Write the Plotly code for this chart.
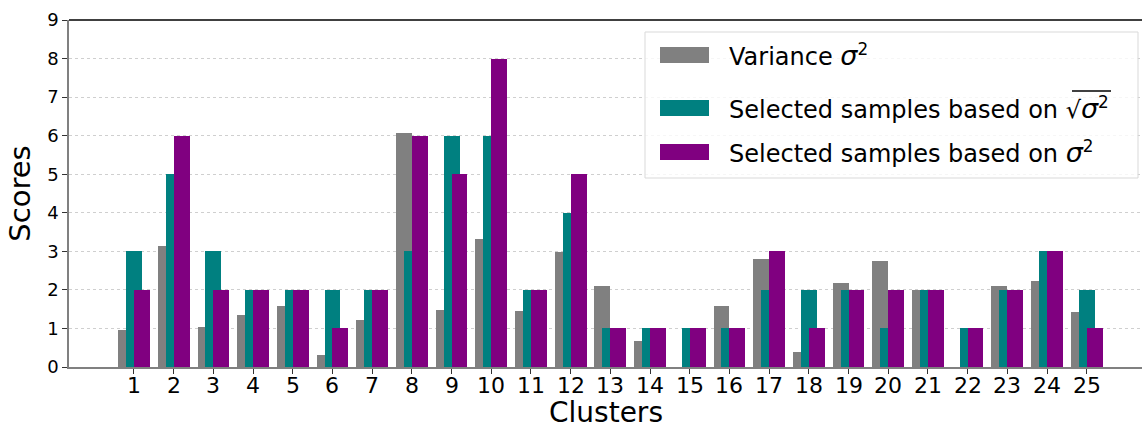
import plotly.graph_objects as go

# Per-cluster scores
clusters = list(range(1, 26))
variance = [0.97, 3.13, 1.03, 1.34, 1.58, 0.31, 1.22, 6.08, 1.48, 3.32,
            1.45, 2.97, 2.11, 0.68, 0.0, 1.58, 2.81, 0.38, 2.17, 2.74,
            2.01, 0.0, 2.10, 2.24, 1.43]
sel_sqrt = [3, 5, 3, 2, 2, 2, 2, 3, 6, 6, 2, 4, 1, 1, 1, 1, 2, 2, 2, 1,
            2, 1, 2, 3, 2]
sel_var = [2, 6, 2, 2, 2, 1, 2, 6, 5, 8, 2, 5, 1, 1, 1, 1, 3, 1, 2, 2,
           2, 1, 2, 3, 1]
tick_labels = [str(c) for c in clusters]

SIG = "<span style='font-size:27px'><i>σ</i></span><sup>2</sup>"
series_names = ["Variance " + SIG,
                "Selected samples based on √" + SIG,
                "Selected samples based on " + SIG]
colors = ["#808080", "#008080", "#800080"]
offsets = [-0.4, -0.2, 0.0]
BAR_W = 0.4

W, H = 1142, 429
ML, MR, MT, MB = 69, 0, 20, 62
PW, PH = W - ML - MR, H - MT - MB
FONT = "DejaVu Sans"


def px_x(p):
    return (p - ML) / PW


def px_y(p):
    return (H - MB - p) / PH


fig = go.Figure()
for vals, name, col, off in zip([variance, sel_sqrt, sel_var], series_names, colors, offsets):
    fig.add_trace(go.Bar(x=clusters, y=vals, name=name, width=BAR_W, offset=off,
                         marker=dict(color=col, line=dict(width=0)),
                         showlegend=False))

shapes = []
annotations = []

# top spine
shapes.append(dict(type="line", xref="paper", yref="paper", x0=0, x1=1, y0=1, y1=1,
                   line=dict(color="black", width=1.5), layer="above"))

# legend box
shapes.append(dict(type="rect", xref="paper", yref="paper",
                   x0=px_x(645), x1=px_x(1138), y0=px_y(178), y1=px_y(32),
                   fillcolor="rgba(255,255,255,0.8)", line=dict(color="#d9d9d9", width=1),
                   layer="above"))
row_y = [55, 108, 152]
for name, col, ry in zip(series_names, colors, row_y):
    shapes.append(dict(type="rect", xref="paper", yref="paper",
                       x0=px_x(660), x1=px_x(709), y0=px_y(ry + 8), y1=px_y(ry - 8),
                       fillcolor=col, line=dict(width=0), layer="above"))
    annotations.append(dict(text=name, xref="paper", yref="paper", x=px_x(727), y=px_y(ry),
                            xanchor="left", yanchor="middle", showarrow=False,
                            font=dict(family=FONT, size=24, color="black")))
# radical overline
shapes.append(dict(type="line", xref="paper", yref="paper",
                   x0=px_x(1072), x1=px_x(1111), y0=px_y(91), y1=px_y(91),
                   line=dict(color="black", width=1.3), layer="above"))

# x tick labels, placed right under the tick marks
for c, lab in zip(clusters, tick_labels):
    annotations.append(dict(text=lab, xref="x", yref="paper", x=c, y=px_y(371),
                            xanchor="center", yanchor="top", showarrow=False,
                            font=dict(family=FONT, size=22, color="black")))

# x-axis title, sitting on the bottom edge
annotations.append(dict(text="Clusters", xref="paper", yref="paper", x=0.5, y=px_y(430),
                        xanchor="center", yanchor="bottom", showarrow=False,
                        borderpad=0,
                        font=dict(family=FONT, size=28, color="black")))

fig.update_layout(
    width=W, height=H,
    margin=dict(l=ML, r=MR, t=MT, b=MB, pad=0),
    paper_bgcolor="white", plot_bgcolor="white",
    barmode="overlay",
    bargap=0,
    font=dict(family=FONT, color="black"),
    shapes=shapes,
    annotations=annotations,
    xaxis=dict(range=[-0.637, 26.393], tickmode="array", tickvals=clusters,
               showticklabels=False,
               ticks="outside", ticklen=5, tickwidth=1, tickcolor="#333333",
               showline=True, linecolor="#808080", linewidth=1.5,
               showgrid=False, zeroline=False),
    yaxis=dict(range=[0, 9], tickmode="linear", tick0=0, dtick=1,
               ticks="outside", ticklen=5, tickwidth=1, tickcolor="#333333",
               tickfont=dict(family=FONT, size=18, color="black"),
               showline=True, linecolor="#808080", linewidth=1.5,
               showgrid=True, gridcolor="#cfcfcf", gridwidth=0.8, griddash="dot",
               zeroline=False,
               title=dict(text="Scores", font=dict(family=FONT, size=29, color="black"),
                          standoff=8)),
)

fig.write_html("out.html")
